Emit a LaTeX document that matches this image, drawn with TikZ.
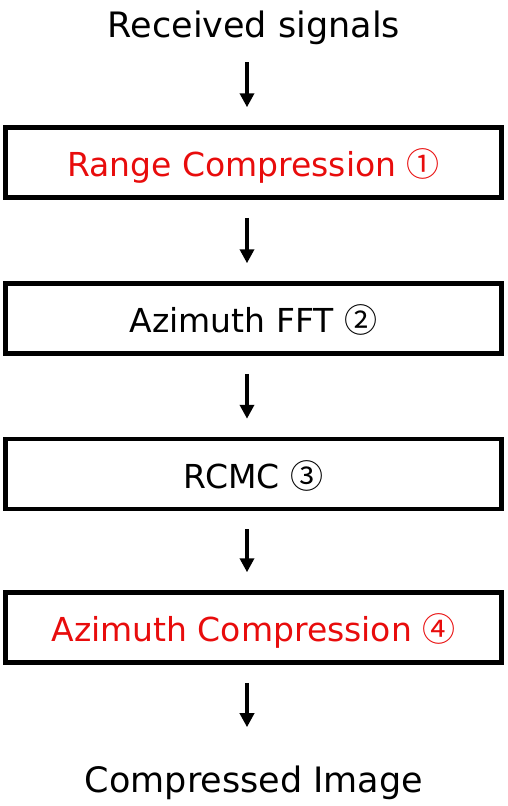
\documentclass[tikz,border=0pt]{standalone}
\usepackage{fontspec}
\setmainfont{DejaVu Sans}
\newfontfamily\circledfont{Noto Sans CJK KR}
\newcommand{\stepno}[1]{{\circledfont #1}}
\usetikzlibrary{positioning,arrows.meta}
\definecolor{stepred}{RGB}{232,12,12}
\begin{document}
\begin{tikzpicture}[x=1pt,y=-1pt,
  stepbox/.style={draw,line width=4.5pt,minimum width=496pt,minimum height=70pt,inner sep=0pt,text height=28pt,text depth=0pt,font=\fontsize{33}{38}\selectfont},
  endtext/.style={inner sep=0pt,font=\fontsize{35}{40}\selectfont},
  flow/.style={-{Triangle[length=14pt,width=14pt]},line width=4pt,shorten <=18pt,shorten >=18pt}]
\useasboundingbox (0,0) rectangle (507,806);
\node[endtext,anchor=base] (recv) at (254,37) {Received signals};
\node[stepbox,text=stepred] (range) at (253.5,162.5) {Range Compression \stepno{①}};
\node[stepbox] (fft) at (253.5,318.5) {Azimuth FFT \stepno{②}};
\node[stepbox] (rcmc) at (253.5,474) {RCMC \stepno{③}};
\node[stepbox,text=stepred] (azi) at (253.5,627.5) {Azimuth Compression \stepno{④}};
\node[endtext,anchor=base] (img) at (254,792) {Compressed Image};
% arrows
\draw[flow] ([xshift=-7pt]recv.south) -- ([xshift=-6.5pt]range.north);
\draw[flow] ([xshift=-6.5pt]range.south) -- ([xshift=-6.5pt]fft.north);
\draw[flow] ([xshift=-6.5pt]fft.south) -- ([xshift=-6.5pt]rcmc.north);
\draw[flow] ([xshift=-6.5pt]rcmc.south) -- ([xshift=-6.5pt]azi.north);
\draw[flow,shorten >=38pt] ([xshift=-6.5pt]azi.south) -- ([xshift=-7pt]img.north);
\end{tikzpicture}
\end{document}
